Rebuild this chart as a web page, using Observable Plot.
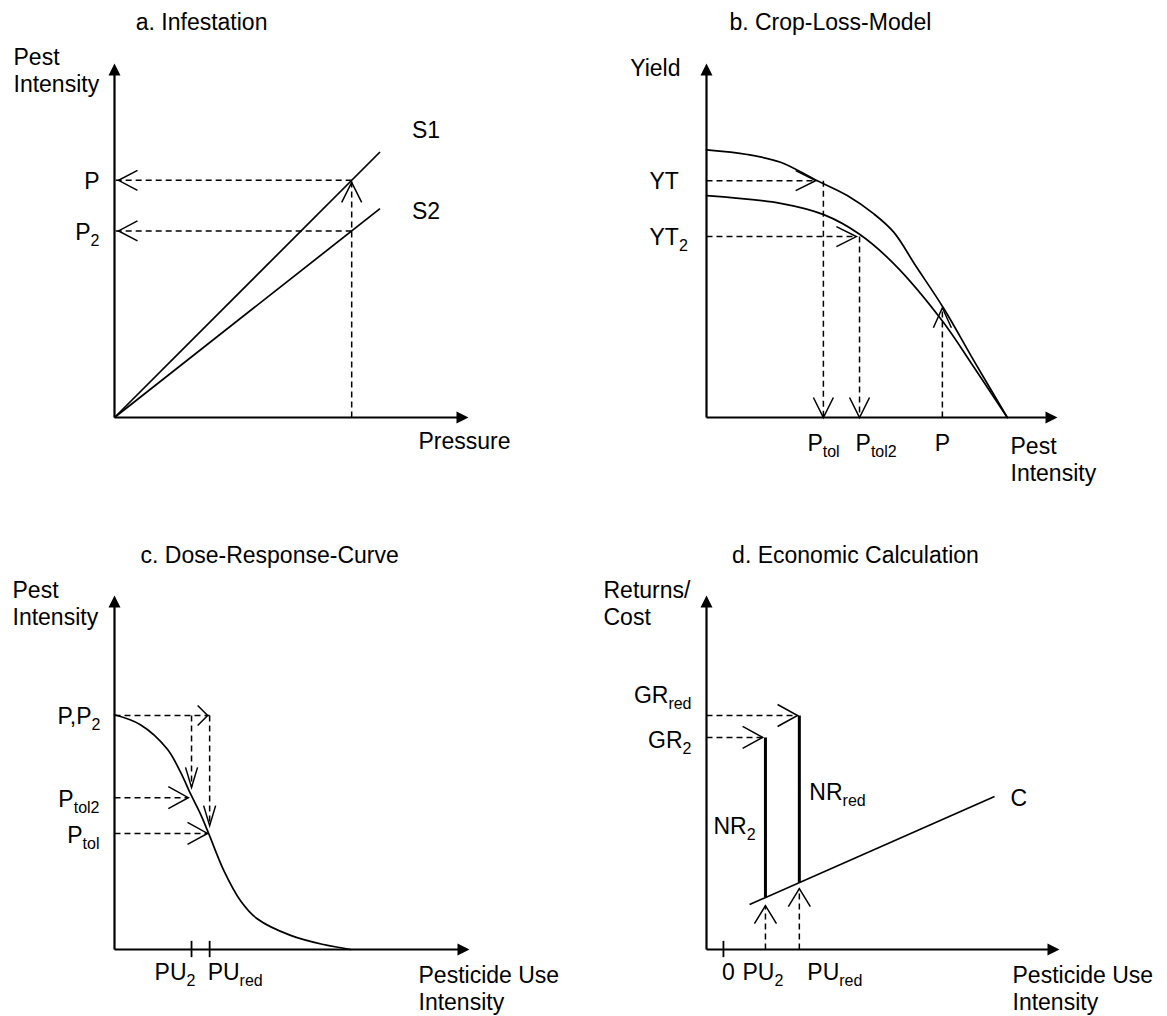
<!DOCTYPE html>
<html>
<head>
<meta charset="utf-8">
<script src="https://cdn.jsdelivr.net/npm/d3@7"></script>
<script src="https://cdn.jsdelivr.net/npm/@observablehq/plot@0.6"></script>
<style>
  html, body { margin: 0; padding: 0; background: #ffffff; }
  #fig { position: relative; width: 1167px; height: 1016px; overflow: hidden; background: #ffffff; }
  #fig svg { position: absolute; overflow: visible; }
</style>
</head>
<body>
<div id="fig"></div>
<script>
// ================= DATA =================
const panelTitles = ["a. Infestation", "b. Crop-Loss-Model", "c. Dose-Response-Curve", "d. Economic Calculation"];

// ---- a. Infestation ----
const aXLabel = "Pressure";
const aYLabel = "Pest\nIntensity";
const aLineNames = ["S1", "S2"];
const aLineEndX = [7.5, 7.5];
const aLineEndY = [7.5, 5.9];
const aPressure = 6.7;
const aLevelNames = ["P", "P_2"];
const aLevels = [6.7, 5.27];

// ---- b. Crop-Loss-Model ----
const bXLabel = "Pest\nIntensity";
const bYLabel = "Yield";
const bUpperX = [0, 1.16, 2.11, 3.11, 4.01, 4.77, 5.34, 5.95, 6.76, 7.62, 8.57];
const bUpperY = [7.56, 7.43, 7.21, 6.71, 6.27, 5.75, 5.23, 4.30, 3.08, 1.60, 0];
const bLowerX = [0, 2.11, 3.34, 4.34, 5.34, 6.71, 7.62, 8.57];
const bLowerY = [6.27, 6.05, 5.73, 5.19, 4.34, 2.74, 1.42, 0];
const bYieldNames = ["YT", "YT_2"];
const bYieldLevels = [6.69, 5.11];
const bYieldTips = [3.11, 4.27];
const bTolNames = ["P_tol", "P_tol2"];
const bTol = [3.33, 4.36];
const bPName = "P";
const bP = 6.72;
const bPYield = 3.1;

// ---- c. Dose-Response-Curve ----
const cXLabel = "Pesticide Use\nIntensity";
const cYLabel = "Pest\nIntensity";
const cCurveX = [0, 0.73, 1.48, 1.86, 2.14, 2.42, 2.66, 3.08, 3.55, 4.02, 4.96, 5.89, 6.65];
const cCurveY = [6.63, 6.35, 5.67, 5.01, 4.40, 3.83, 3.26, 2.23, 1.38, 0.87, 0.40, 0.14, 0];
const cPName = "P,P_2";
const cP = 6.61;
const cTolNames = ["P_tol2", "P_tol"];
const cTolLevels = [4.29, 3.28];
const cTolTips = [2.08, 2.62];
const cUseNames = ["PU_2", "PU_red"];
const cUse = [2.17, 2.68];
const cUseTips = [4.58, 3.50];

// ---- d. Economic Calculation ----
const dXLabel = "Pesticide Use\nIntensity";
const dYLabel = "Returns/\nCost";
const dCostName = "C";
const dCostX = [1.22, 8.16];
const dCostY = [1.27, 4.32];
const dZeroName = "0";
const dZero = 0.48;
const dUseNames = ["PU_2", "PU_red"];
const dUse = [1.67, 2.63];
const dGrossNames = ["GR_2", "GR_red"];
const dGross = [5.99, 6.61];
const dGrossTips = [1.59, 2.58];
const dNetNames = ["NR_2", "NR_red"];
const dNetBase = [1.47, 1.89];
const dUseTips = [1.24, 1.72];

// ================= DRAWING HELPERS =================
const FONT = "'Liberation Sans', Arial, Helvetica, sans-serif";
const FS = 23;
const DASH = "6,4";

function tri(dir) {
  return {draw(ctx) {
    if (dir === "up") { ctx.moveTo(0, 0); ctx.lineTo(6, 12); ctx.lineTo(-6, 12); }
    else { ctx.moveTo(0, 0); ctx.lineTo(-12, -6); ctx.lineTo(-12, 6); }
    ctx.closePath();
  }};
}
function chev(dir, len = 20, half = 11) {
  return {draw(ctx) {
    if (dir === "up") { ctx.moveTo(-half, len); ctx.lineTo(0, 0); ctx.lineTo(half, len); }
    if (dir === "down") { ctx.moveTo(-half, -len); ctx.lineTo(0, 0); ctx.lineTo(half, -len); }
    if (dir === "left") { ctx.moveTo(len, -half); ctx.lineTo(0, 0); ctx.lineTo(len, half); }
    if (dir === "right") { ctx.moveTo(-len, -half); ctx.lineTo(0, 0); ctx.lineTo(-len, half); }
  }};
}
function heads(rows, symbol, extra = {}) {
  return Plot.dot(rows, {x: "x", y: "y", symbol, r: 5, fill: "none", stroke: "black",
    strokeWidth: 1.5, strokeLinejoin: "miter", ...extra});
}
function axisMarks() {
  return [
    Plot.link([{x1: 0, y1: 0, x2: 0, y2: 9.75}, {x1: 0, y1: 0, x2: 9.75, y2: 0}],
      {x1: "x1", y1: "y1", x2: "x2", y2: "y2", stroke: "black", strokeWidth: 2.2}),
    Plot.dot([{x: 0, y: 10}], {x: "x", y: "y", symbol: tri("up"), fill: "black", stroke: "none"}),
    Plot.dot([{x: 10, y: 0}], {x: "x", y: "y", symbol: tri("right"), fill: "black", stroke: "none"})
  ];
}
function dashed(rows) {
  return Plot.link(rows, {x1: "x1", y1: "y1", x2: "x2", y2: "y2", stroke: "black",
    strokeWidth: 1.5, strokeDasharray: DASH});
}
function label(rows, o) {
  return Plot.text(rows, {text: "t", x: "x", y: "y", fontSize: FS, fill: "black",
    lineAnchor: "middle", textAnchor: "start", lineHeight: 1.18, ...o});
}
function curve(xs, ys) {
  return Plot.line(xs.map((x, i) => ({x, y: ys[i]})),
    {x: "x", y: "y", curve: "catmull-rom", stroke: "black", strokeWidth: 1.7});
}

function subscripts(svg) {
  svg.querySelectorAll("text").forEach(t => {
    if (t.querySelector("tspan")) return;
    const s = t.textContent;
    if (!s.includes("_")) return;
    const [main, sub] = s.split("_");
    t.textContent = "";
    t.appendChild(document.createTextNode(main));
    const ts = document.createElementNS("http://www.w3.org/2000/svg", "tspan");
    ts.setAttribute("font-size", "16");
    ts.setAttribute("dy", "6");
    ts.textContent = sub;
    t.appendChild(ts);
  });
}

function panel(left, top, xr, yr, marks) {
  const svg = Plot.plot({
    width: 583, height: 508,
    x: {domain: [0, 10], range: xr, axis: null},
    y: {domain: [0, 10], range: yr, axis: null},
    style: {fontFamily: FONT, fontSize: FS + "px", background: "transparent", overflow: "visible", color: "black"},
    marks
  });
  svg.style.left = left + "px";
  svg.style.top = top + "px";
  subscripts(svg);
  document.getElementById("fig").appendChild(svg);
}

// ================= PANEL a =================
panel(0, 0, [114, 468], [417, 63], [
  ...axisMarks(),
  Plot.link(aLineNames.map((n, i) => ({x2: aLineEndX[i], y2: aLineEndY[i]})),
    {x1: 0, y1: 0, x2: "x2", y2: "y2", stroke: "black", strokeWidth: 1.7}),
  dashed([{x1: aPressure, y1: 0, x2: aPressure, y2: aLevels[0]},
          ...aLevels.map(v => ({x1: aPressure, y1: v, x2: 0, y2: v}))]),
  heads([{x: aPressure, y: aLevels[0]}], chev("up", 20, 10), {dy: 2}),
  heads(aLevels.map(v => ({x: 0, y: v})), chev("left", 19, 10), {dx: 4}),
  label([{t: panelTitles[0], x: 2.46, y: 11.19}], {textAnchor: "middle"}),
  label([{t: aYLabel, x: 0, y: 10}], {dx: -101, dy: -18, lineAnchor: "top"}),
  label([{t: aXLabel, x: 10, y: 0}], {dx: -50, dy: 23}),
  label(aLevelNames.map((t, i) => ({t, x: 0, y: aLevels[i]})), {textAnchor: "end", dx: -15}),
  label([{t: aLineNames[0], x: aLineEndX[0], y: aLineEndY[0]}], {dx: 32, dy: -23}),
  label([{t: aLineNames[1], x: aLineEndX[1], y: aLineEndY[1]}], {dx: 32, dy: 2}),
]);

// ================= PANEL b =================
panel(583, 0, [123, 474], [417, 63], [
  ...axisMarks(),
  curve(bUpperX, bUpperY),
  curve(bLowerX, bLowerY),
  dashed([
    ...bYieldLevels.map((v, i) => ({x1: 0, y1: v, x2: bYieldTips[i], y2: v})),
    ...bTol.map((x, i) => ({x1: x, y1: bYieldLevels[i], x2: x, y2: 0})),
    {x1: bP, y1: 0, x2: bP, y2: bPYield}
  ]),
  heads(bYieldLevels.map((v, i) => ({x: bYieldTips[i], y: v})), chev("right", 20, 10)),
  heads(bTol.map(x => ({x, y: 0})), chev("down", 20, 10)),
  heads([{x: bP, y: bPYield}], chev("up", 20, 9)),
  label([{t: panelTitles[1], x: 3.53, y: 11.19}], {textAnchor: "middle"}),
  label([{t: bYLabel, x: 0, y: 10}], {textAnchor: "end", dx: -26, dy: 4}),
  label([{t: bXLabel, x: 10, y: 0}], {dx: -47, dy: 17, lineAnchor: "top"}),
  label(bYieldNames.map((t, i) => ({t, x: 0, y: bYieldLevels[i]})), {dx: -57}),
  label([{t: bTolNames[0], x: bTol[0], y: 0}], {dx: -16, dy: 25}),
  label([{t: bTolNames[1], x: bTol[1], y: 0}], {dx: -4, dy: 25}),
  label([{t: bPName, x: bP, y: 0}], {textAnchor: "middle", dy: 25}),
]);

// ================= PANEL c =================
panel(0, 508, [114, 469], [441, 87], [
  ...axisMarks(),
  Plot.ruleX(cUse, {x: d => d, y1: -0.23, y2: 0.23, stroke: "black", strokeWidth: 1.8}),
  curve(cCurveX, cCurveY),
  dashed([
    {x1: 0, y1: cP, x2: cUse[1], y2: cP},
    ...cUse.map((x, i) => ({x1: x, y1: cP, x2: x, y2: cUseTips[i]})),
    ...cTolLevels.map((v, i) => ({x1: 0, y1: v, x2: cTolTips[i], y2: v}))
  ]),
  heads([{x: cUse[1], y: cP}], chev("right", 10, 10), {dx: -2}),
  heads(cUse.map((x, i) => ({x, y: cUseTips[i]})), chev("down", 20, 6)),
  heads(cTolLevels.map((v, i) => ({x: cTolTips[i], y: v})), chev("right", 20, 11)),
  label([{t: panelTitles[2], x: 4.37, y: 11.16}], {textAnchor: "middle"}),
  label([{t: cYLabel, x: 0, y: 10}], {dx: -102, dy: -17, lineAnchor: "top"}),
  label([{t: cXLabel, x: 10, y: 0}], {dx: -51, dy: 14, lineAnchor: "top"}),
  label([{t: cPName, x: 0, y: cP}], {textAnchor: "end", dx: -14}),
  label(cTolNames.map((t, i) => ({t, x: 0, y: cTolLevels[i]})), {textAnchor: "end", dx: -15, dy: 1}),
  label([{t: cUseNames[0], x: cUse[0], y: 0}], {dx: -37, dy: 22}),
  label([{t: cUseNames[1], x: cUse[1], y: 0}], {dx: -2, dy: 22}),
]);

// ================= PANEL d =================
panel(583, 508, [123, 476], [441, 87], [
  ...axisMarks(),
  Plot.ruleX([dZero], {x: d => d, y1: -0.23, y2: 0.23, stroke: "black", strokeWidth: 1.8}),
  Plot.link([{x1: dCostX[0], y1: dCostY[0], x2: dCostX[1], y2: dCostY[1]}],
    {x1: "x1", y1: "y1", x2: "x2", y2: "y2", stroke: "black", strokeWidth: 1.7}),
  Plot.link(dUse.map((x, i) => ({x1: x, y1: dNetBase[i], x2: x, y2: dGross[i]})),
    {x1: "x1", y1: "y1", x2: "x2", y2: "y2", stroke: "black", strokeWidth: 3}),
  dashed([
    ...dGross.map((v, i) => ({x1: 0, y1: v, x2: dGrossTips[i], y2: v})),
    ...dUse.map((x, i) => ({x1: x, y1: 0, x2: x, y2: dUseTips[i]}))
  ]),
  heads(dGross.map((v, i) => ({x: dGrossTips[i], y: v})), chev("right", 20, 11)),
  heads(dUse.map((x, i) => ({x, y: dUseTips[i]})), chev("up", 18, 11)),
  label([{t: panelTitles[3], x: 4.22, y: 11.16}], {textAnchor: "middle"}),
  label([{t: dYLabel, x: 0, y: 10}], {dx: -103, dy: -17, lineAnchor: "top"}),
  label([{t: dXLabel, x: 10, y: 0}], {dx: -47, dy: 14, lineAnchor: "top"}),
  label([{t: dGrossNames[1], x: 0, y: dGross[1]}], {textAnchor: "end", dx: -15, dy: -21}),
  label([{t: dGrossNames[0], x: 0, y: dGross[0]}], {textAnchor: "end", dx: -15, dy: 2}),
  label([{t: dNetNames[0], x: dUse[0], y: (dNetBase[0] + dGross[0]) / 2}], {dx: -52, dy: 8}),
  label([{t: dNetNames[1], x: dUse[1], y: (dNetBase[1] + dGross[1]) / 2}], {dx: 10, dy: -8}),
  label([{t: dCostName, x: dCostX[1], y: dCostY[1]}], {dx: 16, dy: 1}),
  label([{t: dZeroName, x: dZero, y: 0}], {textAnchor: "middle", dx: 5, dy: 22}),
  label([{t: dUseNames[0], x: dUse[0], y: 0}], {dx: -23, dy: 22}),
  label([{t: dUseNames[1], x: dUse[1], y: 0}], {dx: 8, dy: 22}),
]);
</script>
</body>
</html>
